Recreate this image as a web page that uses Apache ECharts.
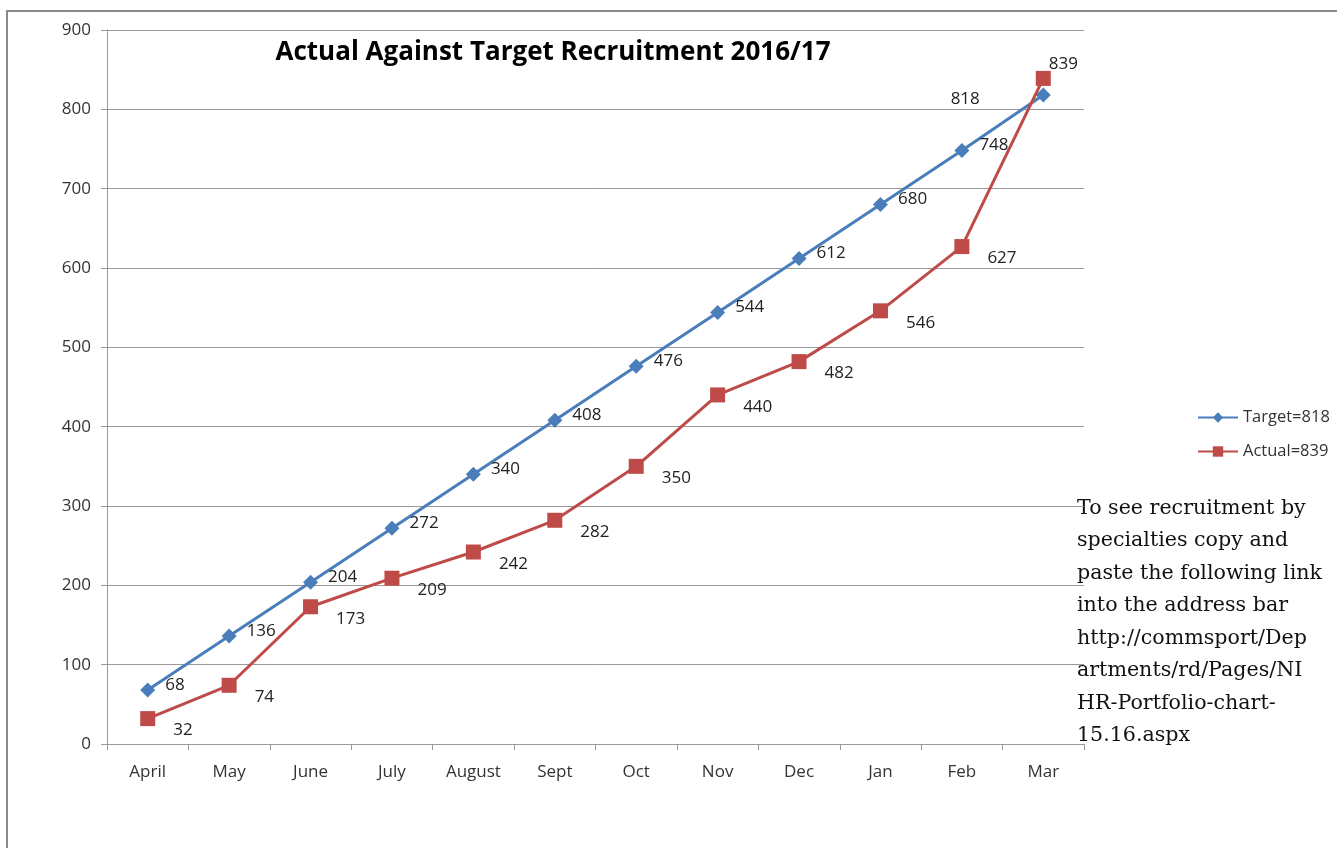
<!DOCTYPE html>
<html><head><meta charset="utf-8">
<script src="https://cdn.jsdelivr.net/npm/echarts@6/dist/echarts.min.js"></script>
<style>html,body{margin:0;padding:0;background:#fff}#c{width:1337px;height:848px}</style>
</head><body><div id="c"></div>
<script>
const categories = ['April','May','June','July','August','Sept','Oct','Nov','Dec','Jan','Feb','Mar'];
const targetValues = [68,136,204,272,340,408,476,544,612,680,748,818];
const actualValues = [32,74,173,209,242,282,350,440,482,546,627,839];
const yTicks = {min:0, max:900, interval:100};
const titleText = 'Actual Against Target Recruitment 2016/17';
const noteLines = ['To see recruitment by','specialties copy and','paste the following link','into the address bar','http://commsport/Dep','artments/rd/Pages/NI','HR-Portfolio-chart-','15.16.aspx'];

const lblFont = {fontFamily:'Open Sans, sans-serif', fontSize:17, color:'#222'};
const chart = echarts.init(document.getElementById('c'));
const tData = targetValues.map((v,i)=> i===categories.length-1 ?
  {value:v, label:{position:'left', offset:[-46,4]}} : v);
const aData = actualValues.map((v,i)=> i===categories.length-1 ?
  {value:v, label:{position:'right', offset:[-12,-14]}} : v);
chart.setOption({
  animation:false,
  title:{text:titleText, left:548, top:35, textAlign:'center',
    textStyle:{fontFamily:'Open Sans, sans-serif', fontSize:26, fontWeight:'bold', color:'#000'}},
  grid:{left:107, right:253, top:30, bottom:104},
  legend:{orient:'vertical', left:1192, top:404, itemGap:17, itemWidth:40, itemHeight:13,
    textStyle:{fontFamily:'Open Sans, sans-serif', fontSize:16.5, color:'#333'},
    data:['Target=818','Actual=839']},
  xAxis:{type:'category', data:categories, boundaryGap:true,
    axisLine:{lineStyle:{color:'#999'}}, axisTick:{show:true, length:6, lineStyle:{color:'#999'}},
    axisLabel:{margin:20, fontFamily:'Open Sans, sans-serif', fontSize:17, color:'#333'}},
  yAxis:{type:'value', min:yTicks.min, max:yTicks.max, interval:yTicks.interval,
    axisLine:{show:true, lineStyle:{color:'#999'}}, axisTick:{show:true, length:6, lineStyle:{color:'#999'}},
    splitLine:{lineStyle:{color:'#999'}},
    axisLabel:{margin:16, fontFamily:'Open Sans, sans-serif', fontSize:17, color:'#333'}},
  series:[
    {name:'Target=818', type:'line', data:tData, symbol:'diamond', symbolSize:15,
      lineStyle:{width:3, color:'#4A7EBB'}, itemStyle:{color:'#4A7EBB'},
      label:{show:true, position:'right', distance:10, offset:[0,-5], ...lblFont}, z:3},
    {name:'Actual=839', type:'line', data:aData, symbol:'rect', symbolSize:15,
      lineStyle:{width:3, color:'#BE4B48'}, itemStyle:{color:'#BE4B48'},
      label:{show:true, position:'right', distance:10, offset:[8,12], ...lblFont}, z:4}
  ],
  graphic:[
    {type:'rect', shape:{x:7, y:11, width:1400, height:900}, style:{fill:'none', stroke:'#8a8a8a', lineWidth:2}, silent:true},
    {type:'text', left:1077, top:492, style:{text:noteLines.join('\n'), font:'20.6px "DejaVu Serif", serif', lineHeight:32.5, fill:'#111'}}
  ]
});
</script></body></html>
